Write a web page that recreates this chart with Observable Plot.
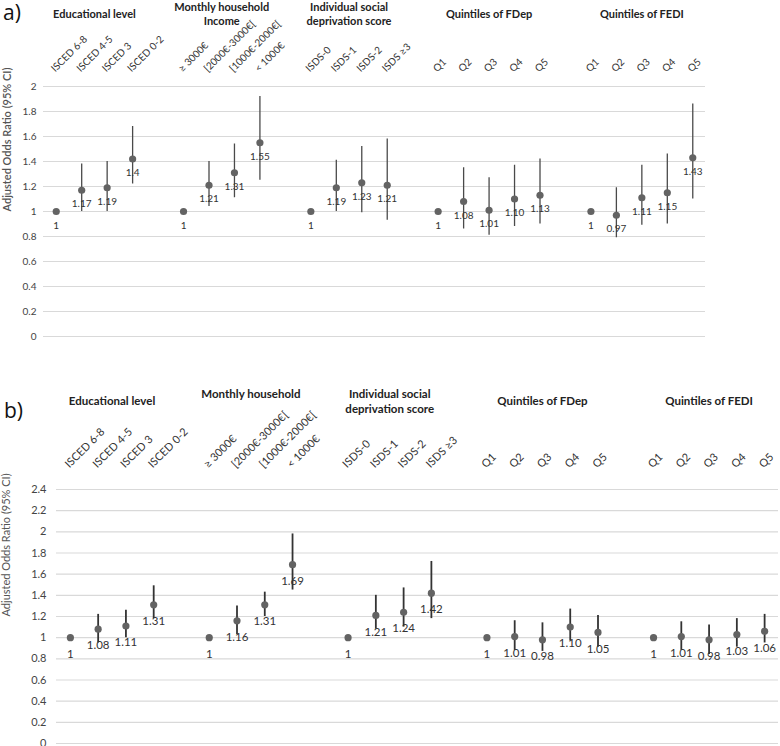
<!DOCTYPE html>
<html>
<head>
<meta charset="utf-8">
<script src="https://cdn.jsdelivr.net/npm/d3@7"></script>
<script src="https://cdn.jsdelivr.net/npm/@observablehq/plot@0.6"></script>
<style>
  body { margin: 0; background: #fff; }
  #root { position: relative; width: 780px; height: 746px; overflow: hidden; font-family: Lato, "Open Sans", sans-serif; }
  .panel { position: absolute; left: 0; }
  .tag { position: absolute; font-size: 21px; line-height: 1; color: #111; font-family: "Open Sans", Lato, sans-serif; }
</style>
</head>
<body>
<div id="root">
  <div class="tag" style="left:3px; top:2px;">a)</div>
  <div class="tag" style="left:4px; top:400px;">b)</div>
  <div id="pa" class="panel" style="top:0px;"></div>
  <div id="pb" class="panel" style="top:375px;"></div>
</div>
<script>
// ---------- shared categories ----------
const catEducation = ["ISCED 6-8", "ISCED 4-5", "ISCED 3", "ISCED 0-2"];
const catIncome = ["≥ 3000€", "[2000€-3000€[", "[1000€-2000€[", "< 1000€"];
const catISDS = ["ISDS-0", "ISDS-1", "ISDS-2", "ISDS ≥3"];
const catFDep = ["Q1", "Q2", "Q3", "Q4", "Q5"];
const catFEDI = ["Q1", "Q2", "Q3", "Q4", "Q5"];
const categories = [catEducation, catIncome, catISDS, catFDep, catFEDI];

const groupTitlesA = ["Educational level", "Monthly household\nIncome", "Individual social\ndeprivation score", "Quintiles of FDep", "Quintiles of FEDI"];
const groupTitlesB = ["Educational level", "Monthly household\n", "Individual social\ndeprivation score", "Quintiles of FDep", "Quintiles of FEDI"];

// ---------- panel a ----------
const orA = [1, 1.17, 1.19, 1.42, 1, 1.21, 1.31, 1.55, 1, 1.19, 1.23, 1.21, 1, 1.08, 1.01, 1.10, 1.13, 1, 0.97, 1.11, 1.15, 1.43];
const loA = [null, 1.00, 1.00, 1.22, null, 1.04, 1.11, 1.25, null, 1.00, 0.99, 0.93, null, 0.86, 0.81, 0.88, 0.90, null, 0.79, 0.89, 0.90, 1.10];
const hiA = [null, 1.38, 1.40, 1.68, null, 1.40, 1.54, 1.92, null, 1.41, 1.52, 1.58, null, 1.35, 1.27, 1.37, 1.42, null, 1.19, 1.37, 1.46, 1.86];
const labelsA = ["1", "1.17", "1.19", "1.4", "1", "1.21", "1.31", "1.55", "1", "1.19", "1.23", "1.21", "1", "1.08", "1.01", "1.10", "1.13", "1", "0.97", "1.11", "1.15", "1.43"];
const yTicksA = [0, 0.2, 0.4, 0.6, 0.8, 1, 1.2, 1.4, 1.6, 1.8, 2];

// ---------- panel b ----------
const orB = [1, 1.08, 1.11, 1.31, 1, 1.16, 1.31, 1.69, 1, 1.21, 1.24, 1.42, 1, 1.01, 0.98, 1.10, 1.05, 1, 1.01, 0.98, 1.03, 1.06];
const loB = [null, 0.95, 1.00, 1.18, null, 1.03, 1.20, 1.45, null, 1.08, 1.10, 1.18, null, 0.88, 0.87, 0.97, 0.91, null, 0.88, 0.84, 0.91, 0.95];
const hiB = [null, 1.22, 1.26, 1.49, null, 1.30, 1.43, 1.98, null, 1.40, 1.47, 1.72, null, 1.16, 1.14, 1.27, 1.21, null, 1.15, 1.12, 1.18, 1.22];
const labelsB = ["1", "1.08", "1.11", "1.31", "1", "1.16", "1.31", "1.69", "1", "1.21", "1.24", "1.42", "1", "1.01", "0.98", "1.10", "1.05", "1", "1.01", "0.98", "1.03", "1.06"];
const yTicksB = [0, 0.2, 0.4, 0.6, 0.8, 1, 1.2, 1.4, 1.6, 1.8, 2, 2.2, 2.4];

const yLabel = "Adjusted Odds Ratio (95% CI)";

function buildRows(or, lo, hi, labels) {
  const rows = [], groups = [];
  let slot = 0, k = 0;
  categories.forEach((list, g) => {
    const start = slot;
    list.forEach(c => {
      rows.push({slot, cat: c, or: or[k], lo: lo[k], hi: hi[k], label: labels[k]});
      k++; slot++;
    });
    groups.push({g, center: (start + slot - 1) / 2});
    slot++; // empty slot between groups
  });
  return {rows, groups, nSlots: slot - 1};
}

function panel(cfg) {
  const {rows, groups, nSlots} = buildRows(cfg.or, cfg.lo, cfg.hi, cfg.labels);
  groups.forEach(d => d.title = cfg.titles[d.g]);
  const fmt = d => String(+d.toFixed(1));
  return Plot.plot({
    width: 780,
    height: cfg.height,
    marginLeft: cfg.ml,
    marginRight: cfg.mr,
    marginTop: cfg.mt,
    marginBottom: cfg.mb,
    style: {fontFamily: "Lato, 'Open Sans', sans-serif", background: "transparent", overflow: "visible"},
    x: {domain: [-0.5, nSlots - 0.5], axis: null},
    y: {domain: cfg.yDomain},
    marks: [
      Plot.gridY(cfg.ticks, {stroke: "#d9d9d9", strokeOpacity: 1, strokeWidth: 1.2}),
      Plot.axisY(cfg.ticks, {
        tickSize: 0, tickPadding: cfg.tickPad, tickFormat: fmt,
        fontSize: cfg.tickFont, fill: "#444", label: null
      }),
      Plot.text([yLabel], {frameAnchor: "left", rotate: -90, dx: cfg.yLabelDx, fontSize: cfg.yLabelFont, fontWeight: cfg.yLabelWeight, fill: "#555"}),
      Plot.ruleX(rows.filter(d => d.lo != null), {x: "slot", y1: "lo", y2: "hi", stroke: cfg.ciColor, strokeWidth: cfg.ciWidth}),
      Plot.dot(rows, {x: "slot", y: "or", r: 3.6, fill: "#636363", stroke: "none"}),
      Plot.text(rows, {x: "slot", y: "or", text: "label", dy: cfg.labelDy, fontSize: cfg.valFont, fill: "#333"}),
      Plot.text(rows, {x: "slot", text: "cat", frameAnchor: "top", rotate: -45, textAnchor: "start", lineAnchor: "bottom", dy: cfg.catDy, dx: -1, fontSize: cfg.catFont, fill: "#333"}),
      Plot.text(groups, {x: "center", text: "title", frameAnchor: "top", dy: cfg.titleDy, lineAnchor: "middle", lineHeight: 1.28, fontSize: cfg.titleFont, fontWeight: "bold", fill: "#222"})
    ]
  });
}

const a = panel({
  or: orA, lo: loA, hi: hiA, labels: labelsA, titles: groupTitlesA,
  height: 346, ml: 43, mr: 75, mt: 86, mb: 10,
  yDomain: [0, 2], ticks: yTicksA, tickPad: 7, tickFont: 10,
  yLabelDx: -36.5, yLabelFont: 11, yLabelWeight: 600,
  ciColor: "#4a4a4a", ciWidth: 1.3, labelDy: 14, valFont: 10,
  catDy: -14, catFont: 10, titleDy: -73, titleFont: 11
});
document.getElementById("pa").appendChild(a);

const b = panel({
  or: orB, lo: loB, hi: hiB, labels: labelsB, titles: groupTitlesB,
  height: 371, ml: 56, mr: 2, mt: 114, mb: 3,
  yDomain: [0, 2.4], ticks: yTicksB, tickPad: 10, tickFont: 11,
  yLabelDx: -50.5, yLabelFont: 11, yLabelWeight: 400,
  ciColor: "#333", ciWidth: 1.8, labelDy: 16.5, valFont: 11.5,
  catDy: -21, catFont: 11, titleDy: -89, titleFont: 11.5
});
document.getElementById("pb").appendChild(b);
</script>
</body>
</html>
